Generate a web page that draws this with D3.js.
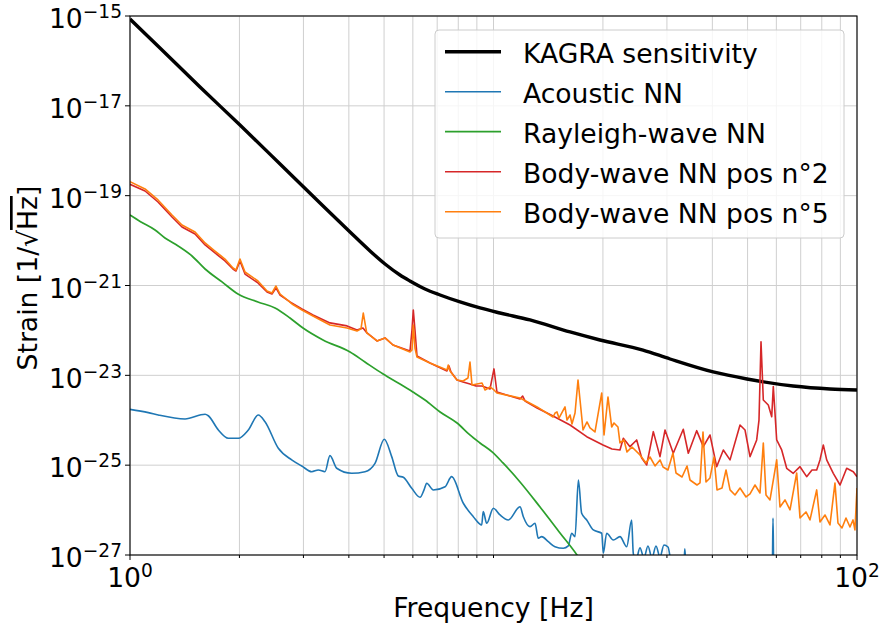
<!DOCTYPE html>
<html><head><meta charset="utf-8">
<script src="https://cdn.jsdelivr.net/npm/d3@7"></script>
<style>body{margin:0;background:#fff;} text{font-family:"DejaVu Sans",sans-serif;fill:#000;}</style>
</head><body><svg id="chart" width="880" height="628"></svg>
<script>
// ---------- data ----------
const kagraFreq = [1, 1.209, 1.558, 2.007, 2.587, 3.332, 4.03, 4.575, 5.03, 5.53, 5.89, 6.48, 7.13, 8.09, 9.18, 10.42, 12.6, 16.24, 19.63, 25.78, 30.6, 40.2, 49.8, 66.7, 84.3, 100];
const kagraStrain = [8.57e-16, 1.94e-16, 2.62e-17, 3.74e-18, 5.07e-19, 6.87e-20, 1.55e-20, 5.86e-21, 3.01e-21, 1.71e-21, 1.26e-21, 8.36e-22, 6.15e-22, 4.30e-22, 3.16e-22, 2.44e-22, 1.71e-22, 9.23e-23, 6.12e-23, 3.66e-23, 2.31e-23, 1.19e-23, 8.30e-24, 5.79e-24, 4.97e-24, 4.72e-24];

const acousticFreq = [1.0, 1.123, 1.196, 1.417, 1.609, 1.642, 1.750, 1.864, 1.986, 2.116, 2.254, 2.352, 2.559, 2.785, 2.968, 3.162, 3.296, 3.439, 3.549, 3.704, 4.073, 4.431, 4.721, 5.008, 5.247, 5.472, 5.648, 5.957, 6.279, 6.44, 6.55, 6.83, 7.36, 7.67, 8.26, 8.80, 9.28, 9.37, 9.58, 9.99, 10.42, 10.98, 11.83, 12.08, 12.60, 13.01, 13.28, 13.57, 14.15, 14.76, 15.56, 16.06, 16.41, 16.76, 17.12, 17.48, 18.05, 18.82, 19.85, 20.05, 20.48, 21.36, 22.28, 23.25, 23.99, 24.24, 24.66, 25.29, 25.94, 26.6, 27.29, 27.99, 28.71, 29.44, 30.2, 30.97, 33.4, 33.6, 33.84, 58.5, 58.74, 59.0, 100];
const acousticStrain = [1.75e-24, 1.48e-24, 1.31e-24, 1.07e-24, 1.36e-24, 1.26e-24, 6.07e-25, 3.97e-25, 3.97e-25, 6.07e-25, 1.31e-24, 9.29e-25, 2.38e-25, 1.31e-25, 9.6e-26, 7.16e-26, 7.82e-26, 7.16e-26, 1.63e-25, 8.53e-26, 6.59e-26, 7.16e-26, 1.10e-25, 3.77e-25, 1.55e-25, 5.74e-26, 5.37e-26, 3.06e-26, 1.93e-26, 2.81e-26, 3.95e-26, 2.81e-26, 3.32e-26, 5.55e-26, 1.42e-26, 7.13e-27, 4.67e-27, 9.23e-27, 5.08e-27, 1.10e-26, 7.78e-27, 6.03e-27, 1.19e-26, 7.13e-27, 4.28e-27, 5.08e-27, 2.36e-27, 2.56e-27, 1.98e-27, 1.53e-27, 1.41e-27, 1.59e-27, 3.05e-27, 2.56e-27, 4.68e-26, 8.49e-27, 6.03e-27, 3.61e-27, 3.05e-27, 1.09e-27, 3.05e-27, 2.16e-27, 2.56e-27, 1.53e-27, 6.03e-27, 1.09e-27, 7.7e-28, 1.44e-27, 8.6e-28, 1.59e-27, 8.6e-28, 1.59e-27, 9.0e-28, 1.67e-27, 1.51e-27, 6.0e-28, 6.0e-28, 1.37e-27, 6.0e-28, 6.0e-28, 6.67e-27, 6.0e-28, 6.0e-28];

const rayleighFreq = [1.0, 1.072, 1.172, 1.248, 1.330, 1.481, 1.609, 1.791, 1.982, 2.249, 2.506, 2.755, 2.992, 3.396, 4.03, 4.43, 4.97, 5.53, 6.00, 6.48, 7.13, 7.94, 8.61, 9.18, 9.91, 10.62, 11.83, 13.43, 15.24, 16.97, 18.43];
const rayleighStrain = [3.72e-20, 2.60e-20, 1.72e-20, 1.14e-20, 8.4e-21, 4.54e-21, 2.33e-21, 1.20e-21, 6.47e-22, 4.30e-22, 3.16e-22, 1.89e-22, 1.13e-22, 6.12e-23, 3.31e-23, 1.98e-23, 1.07e-23, 6.41e-24, 4.26e-24, 2.83e-24, 1.53e-24, 8.69e-25, 4.70e-25, 3.12e-25, 1.97e-25, 1.12e-25, 4.23e-26, 1.17e-26, 3.10e-27, 1.0e-27, 3.6e-28];

const body2Freq = [1, 1.100, 1.194, 1.305, 1.390, 1.510, 1.609, 1.713, 1.825, 1.920, 1.957, 2.007, 2.072, 2.249, 2.382, 2.458, 2.521, 2.587, 2.755, 2.972, 3.187, 3.549, 3.954, 4.212, 4.375, 4.487, 4.781, 5.030, 5.291, 5.892, 5.967, 6.017, 6.081, 6.159, 6.688, 7.448, 7.543, 7.640, 7.937, 8.245, 8.616, 8.948, 9.298, 9.781, 10.03, 10.22, 11.10, 11.83, 12.03, 12.21, 13.18, 14.58, 16.24, 18.05, 20.01, 21.18, 22.28, 22.76, 23.74, 24.77, 25.57, 26.39, 27.52, 28.71, 29.64, 31.23, 33.27, 34.35, 36.22, 37.77, 39.41, 41.11, 42.88, 44.74, 47.66, 49.20, 50.78, 52.97, 53.75, 54.44, 55.24, 57.01, 58.26, 58.85, 60.13, 62.06, 64.06, 66.79, 69.70, 72.70, 75.19, 77.46, 79.10, 80.78, 82.53, 86.06, 89.81, 93.67, 97.68, 100];
const body2Strain = [1.79e-19, 1.27e-19, 7.23e-20, 3.35e-20, 2.01e-20, 1.40e-20, 7.98e-21, 5.30e-21, 3.52e-21, 2.33e-21, 2.10e-21, 3.52e-21, 1.80e-21, 1.14e-21, 7.18e-22, 6.47e-22, 8.81e-22, 6.15e-22, 4.30e-22, 3.00e-22, 2.21e-22, 1.47e-22, 1.26e-22, 1.02e-22, 1.13e-22, 8.77e-23, 5.82e-23, 6.79e-23, 4.74e-23, 3.48e-23, 1.02e-22, 2.85e-22, 1.02e-22, 2.70e-23, 1.88e-23, 1.25e-23, 1.61e-23, 1.19e-23, 7.89e-24, 7.11e-24, 6.43e-24, 5.79e-24, 5.79e-24, 4.97e-24, 1.39e-23, 4.26e-24, 3.47e-24, 2.98e-24, 3.47e-24, 2.69e-24, 1.88e-24, 1.24e-24, 7.85e-25, 4.31e-25, 2.82e-25, 2.30e-25, 2.18e-25, 3.97e-25, 2.58e-25, 3.64e-25, 1.45e-25, 1.01e-25, 5.57e-25, 1.55e-25, 6.07e-25, 1.84e-25, 6.30e-25, 1.84e-25, 5.86e-25, 2.58e-25, 4.70e-25, 9.25e-26, 2.18e-25, 1.31e-25, 7.85e-25, 6.07e-25, 1.55e-25, 3.64e-25, 1.01e-24, 5.61e-23, 2.83e-24, 2.19e-24, 1.20e-24, 5.60e-24, 3.64e-25, 2.18e-25, 8.53e-26, 6.59e-26, 9.25e-26, 5.55e-26, 7.82e-26, 7.82e-26, 1.31e-25, 2.82e-25, 1.31e-25, 6.59e-26, 3.62e-26, 8.53e-26, 7.16e-26, 5.55e-26];

const body5Freq = [1, 1.100, 1.194, 1.305, 1.390, 1.510, 1.609, 1.713, 1.825, 1.920, 1.957, 2.007, 2.072, 2.249, 2.382, 2.458, 2.521, 2.587, 2.791, 2.972, 3.187, 3.549, 3.954, 4.212, 4.320, 4.383, 4.479, 4.781, 5.030, 5.291, 5.892, 5.967, 6.017, 6.081, 6.159, 6.688, 7.448, 7.508, 7.592, 7.937, 8.245, 8.507, 8.616, 8.727, 9.298, 9.476, 9.781, 10.03, 10.22, 11.83, 13.18, 14.58, 14.77, 14.95, 15.14, 15.73, 15.93, 16.24, 16.44, 16.76, 17.08, 17.30, 17.63, 18.08, 18.43, 19.02, 19.85, 20.14, 20.65, 21.14, 21.45, 22.00, 22.28, 22.86, 23.29, 24.04, 25.29, 26.27, 26.95, 27.82, 28.71, 29.27, 30.20, 31.17, 31.77, 33.01, 34.07, 34.72, 36.29, 36.99, 37.70, 38.42, 39.41, 40.43, 41.20, 42.53, 43.62, 44.74, 46.17, 47.66, 49.51, 50.78, 52.41, 54.09, 55.24, 56.19, 57.63, 60.13, 61.40, 63.38, 65.42, 68.25, 69.70, 72.39, 74.25, 77.46, 79.10, 81.64, 84.27, 86.98, 88.64, 90.93, 93.26, 95.65, 97.5, 98.7, 100];
const body5Strain = [2.05e-19, 1.41e-19, 8.02e-20, 3.72e-20, 2.22e-20, 1.55e-20, 8.85e-21, 5.86e-21, 3.89e-21, 2.45e-21, 2.21e-21, 3.89e-21, 2.00e-21, 1.26e-21, 7.55e-22, 6.81e-22, 9.75e-22, 6.47e-22, 3.88e-22, 2.85e-22, 2.09e-22, 1.32e-22, 1.13e-22, 9.70e-23, 1.08e-22, 2.44e-22, 8.77e-23, 5.82e-23, 6.79e-23, 4.74e-23, 3.31e-23, 3.66e-23, 1.32e-22, 4.06e-23, 2.56e-23, 1.88e-23, 1.32e-23, 1.70e-23, 1.25e-23, 7.89e-24, 7.48e-24, 8.73e-24, 1.98e-23, 6.10e-24, 6.76e-24, 4.72e-24, 5.51e-24, 4.72e-24, 4.05e-24, 3.13e-24, 1.98e-24, 1.18e-24, 1.45e-24, 1.53e-24, 1.12e-24, 1.98e-24, 1.01e-24, 1.31e-24, 8.26e-25, 1.45e-24, 7.89e-24, 2.83e-24, 6.07e-25, 9.16e-25, 6.73e-25, 5.48e-25, 4.05e-24, 4.70e-25, 3.30e-24, 7.08e-25, 8.69e-25, 7.08e-25, 3.12e-25, 3.64e-25, 1.97e-25, 2.54e-25, 1.69e-25, 1.12e-25, 1.52e-25, 9.59e-26, 1.31e-25, 9.12e-26, 7.82e-26, 1.87e-25, 6.70e-26, 5.46e-26, 9.59e-26, 4.68e-26, 3.62e-26, 4.02e-26, 5.48e-25, 4.23e-26, 5.19e-26, 1.52e-25, 2.81e-26, 3.10e-26, 7.82e-26, 2.81e-26, 2.17e-26, 3.10e-26, 1.96e-26, 2.29e-26, 3.62e-26, 2.40e-26, 3.12e-25, 2.17e-26, 1.68e-26, 1.31e-25, 1.17e-26, 1.68e-26, 1.01e-26, 6.70e-26, 6.67e-27, 9.08e-27, 6.03e-27, 2.81e-26, 5.44e-27, 7.78e-27, 4.67e-27, 4.02e-26, 5.16e-27, 4.00e-27, 6.67e-27, 4.21e-27, 6.03e-27, 3.61e-27, 3.10e-26];

const xTickValues = [1, 100];
const xTickExponents = ["0", "2"];
const yTickValues = [1e-15, 1e-17, 1e-19, 1e-21, 1e-23, 1e-25, 1e-27];
const yTickExponents = ["\u221215", "\u221217", "\u221219", "\u221221", "\u221223", "\u221225", "\u221227"];
const seriesNames = ["KAGRA sensitivity", "Acoustic NN", "Rayleigh-wave NN", "Body-wave NN pos n°2", "Body-wave NN pos n°5"];
const xLabel = "Frequency [Hz]";

// ---------- layout ----------
const L = 130, R = 857, T = 16, B = 555;
const FS = 26.6, SUP = 18.6;
const svg = d3.select("#chart");
const x = d3.scaleLog().domain([1, 100]).range([L, R]);
const y = d3.scaleLog().domain([1e-27, 1e-15]).range([B, T]);

// grid
const minorX = x.ticks().filter(v => xTickValues.indexOf(v) < 0);
const grid = svg.append("g").attr("stroke", "#cfcfcf").attr("stroke-width", 1);
minorX.concat(xTickValues).forEach(v => {
  grid.append("line").attr("x1", x(v)).attr("x2", x(v)).attr("y1", T).attr("y2", B);
});
yTickValues.forEach(v => {
  grid.append("line").attr("x1", L).attr("x2", R).attr("y1", y(v)).attr("y2", y(v));
});

// clip
svg.append("defs").append("clipPath").attr("id", "clip")
  .append("rect").attr("x", L).attr("y", T).attr("width", R - L).attr("height", B - T);

const plot = svg.append("g").attr("clip-path", "url(#clip)");
function draw(fs, vs, color, w, curve) {
  const pts = fs.map((f, i) => [f, vs[i]]);
  const line = d3.line().x(d => x(d[0])).y(d => y(d[1])).curve(curve || d3.curveLinear);
  plot.append("path").attr("d", line(pts)).attr("fill", "none")
    .attr("stroke", color).attr("stroke-width", w).attr("stroke-linejoin", "round");
}
const colors = ["#000000", "#1f77b4", "#2ca02c", "#d62728", "#ff7f0e"];
const widths = [3.4, 1.6, 1.7, 1.6, 1.6];
draw(kagraFreq, kagraStrain, colors[0], widths[0], d3.curveMonotoneX);
draw(acousticFreq, acousticStrain, colors[1], widths[1], d3.curveMonotoneX);
draw(rayleighFreq, rayleighStrain, colors[2], widths[2], d3.curveMonotoneX);
draw(body2Freq, body2Strain, colors[3], widths[3]);
draw(body5Freq, body5Strain, colors[4], widths[4]);

// spines
svg.append("rect").attr("x", L).attr("y", T).attr("width", R - L).attr("height", B - T)
  .attr("fill", "none").attr("stroke", "#000").attr("stroke-width", 1.1);

// ticks
const tk = svg.append("g").attr("stroke", "#000").attr("stroke-width", 1);
xTickValues.forEach(v => tk.append("line").attr("x1", x(v)).attr("x2", x(v)).attr("y1", B).attr("y2", B + 5));
minorX.forEach(v => tk.append("line").attr("x1", x(v)).attr("x2", x(v)).attr("y1", B).attr("y2", B + 3));
yTickValues.forEach(v => tk.append("line").attr("x1", L - 5).attr("x2", L).attr("y1", y(v)).attr("y2", y(v)));

// tick labels
xTickValues.forEach((v, i) => {
  const t = svg.append("text").attr("x", x(v)).attr("y", B + 32).attr("text-anchor", "middle").attr("font-size", FS);
  t.append("tspan").text("10");
  t.append("tspan").attr("dy", -10).attr("font-size", SUP).text(xTickExponents[i]);
});
yTickValues.forEach((v, i) => {
  const t = svg.append("text").attr("x", L - 8).attr("y", y(v) + 12.3).attr("text-anchor", "end").attr("font-size", FS);
  t.append("tspan").text("10");
  t.append("tspan").attr("dy", -10).attr("font-size", SUP).text(yTickExponents[i]);
});

// axis labels
svg.append("text").attr("x", (L + R) / 2).attr("y", 617).attr("text-anchor", "middle")
  .attr("font-size", FS).text(xLabel);
const yl = svg.append("text").attr("transform", "translate(37,278) rotate(-90)")
  .attr("text-anchor", "middle").attr("font-size", FS);
yl.append("tspan").text("Strain [1/\u221A");
yl.append("tspan").style("text-decoration", "overline").text("Hz");
yl.append("tspan").text("]");

// legend
const lg = svg.append("g");
lg.append("rect").attr("x", 435).attr("y", 30).attr("width", 409).attr("height", 208).attr("rx", 4)
  .attr("fill", "#fff").attr("fill-opacity", 0.8).attr("stroke", "#cccccc").attr("stroke-width", 1);
seriesNames.forEach((n, i) => {
  const cy = 51.7 + i * 40;
  lg.append("line").attr("x1", 445).attr("x2", 501).attr("y1", cy).attr("y2", cy)
    .attr("stroke", colors[i]).attr("stroke-width", widths[i]);
  lg.append("text").attr("x", 523).attr("y", cy + 11).attr("font-size", FS).text(n);
});
</script></body></html>
